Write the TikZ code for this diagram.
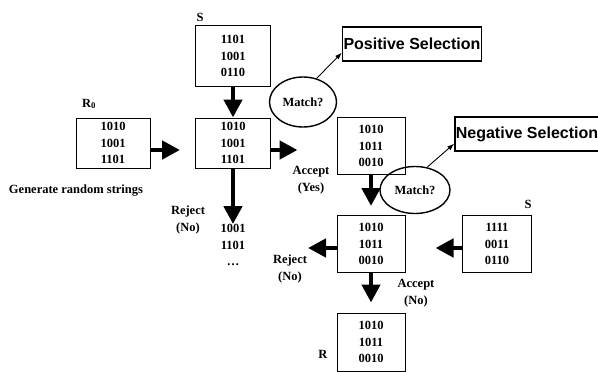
\documentclass[tikz,border=0pt]{standalone}
\usepackage{fontspec}
\setmainfont{Liberation Serif}
\newfontfamily\selfont{Liberation Sans}
\usetikzlibrary{arrows.meta,shapes.geometric}

\begin{document}
\begin{tikzpicture}[x=1pt,y=-1pt,
  every node/.style={font=\fontsize{12.5}{16.5}\selectfont\bfseries},
  strbox/.style={draw,line width=1pt,align=center,inner sep=0pt},
  selbox/.style={draw,line width=1.3pt,inner xsep=1pt,minimum height=34pt,font=\selfont\fontsize{16}{16}\selectfont\bfseries},
  matchell/.style={draw,ellipse,line width=1.4pt,inner sep=0pt},
  bigarrow/.style={line width=4.5pt,-{Triangle[length=18pt,width=18pt]}},
  thinarrow/.style={line width=0.9pt,-{Latex[length=7pt,width=5pt]}},
  lbl/.style={align=center,inner sep=0pt}]
\useasboundingbox (0,0) rectangle (598,372);

% string sets
\node (r0) [strbox, minimum width=74pt, minimum height=50pt] at (113,143) {1010\\1001\\1101};
\node (s1) [strbox, minimum width=75pt, minimum height=61pt] at (233,56) {1101\\1001\\0110};
\node (mid) [strbox, minimum width=75pt, minimum height=50pt] at (233,143) {1010\\1001\\1101};
\node (acc) [strbox, minimum width=68pt, minimum height=57pt] at (371,146) {1010\\1011\\0010};
\node (chk) [strbox, minimum width=68pt, minimum height=57pt] at (371,244) {1010\\1011\\0010};
\node (s2) [strbox, minimum width=69pt, minimum height=57pt] at (497,244) {1111\\0011\\0110};
\node (r) [strbox, minimum width=68pt, minimum height=58pt] at (371,342) {1010\\1011\\0010};
\node (rej) [lbl] at (233,245) {1001\\1101\\\dots};

% labels
\node (r0lbl) [lbl] at (89,104) {R$_{\mathbf 0}$};
\node (s1lbl) [lbl] at (200,17) {S};
\node (s2lbl) [lbl] at (528,204) {S};
\node (rlbl) [lbl] at (323,354) {R};
\node (gen) [lbl] at (76,191) {Generate random strings};
\node (rej1) [lbl] at (188,220) {Reject\\(No)};
\node (acc1) [lbl] at (311,180) {Accept\\(Yes)};
\node (rej2) [lbl] at (290,269) {Reject\\(No)};
\node (acc2) [lbl] at (416,293) {Accept\\(No)};

% matching
\node (m1) [matchell, minimum width=67pt, minimum height=50pt] at (303,102) {Match?};
\node (m2) [matchell, minimum width=70pt, minimum height=47pt] at (415,190) {Match?};
\node (pos) [selbox, minimum width=136pt] at (412,44) {Positive Selection};
\node (neg) [selbox, minimum width=140pt] at (527,134) {Negative Selection};

\coordinate (rejtip) at (308,248);

\draw [bigarrow, shorten >=15pt] ([yshift=-7pt]r0.east) -- ([yshift=-7pt]r0.east -| mid.west);
\draw [bigarrow] (s1.south) -- (mid.north);
\draw [bigarrow, shorten >=39pt] ([yshift=-7pt]mid.east) -- ([yshift=-7pt]mid.east -| acc.west);
\draw [bigarrow] (mid.south) -- (rej.north);
\draw [bigarrow, shorten >=9pt] (acc.south) -- (chk.north);
\draw [bigarrow, shorten >=30pt] ([yshift=-4pt]s2.west) -- ([yshift=-4pt]chk.east);
\draw [bigarrow] ([yshift=-4pt]chk.west) -- (rejtip);
\draw [bigarrow, shorten >=10pt] (chk.south) -- (r.north);
\draw [thinarrow] (m1.60) -- ([yshift=9pt]pos.south west);
\draw [thinarrow] (m2.62) -- ([yshift=8pt]neg.south west);
\end{tikzpicture}
\end{document}
